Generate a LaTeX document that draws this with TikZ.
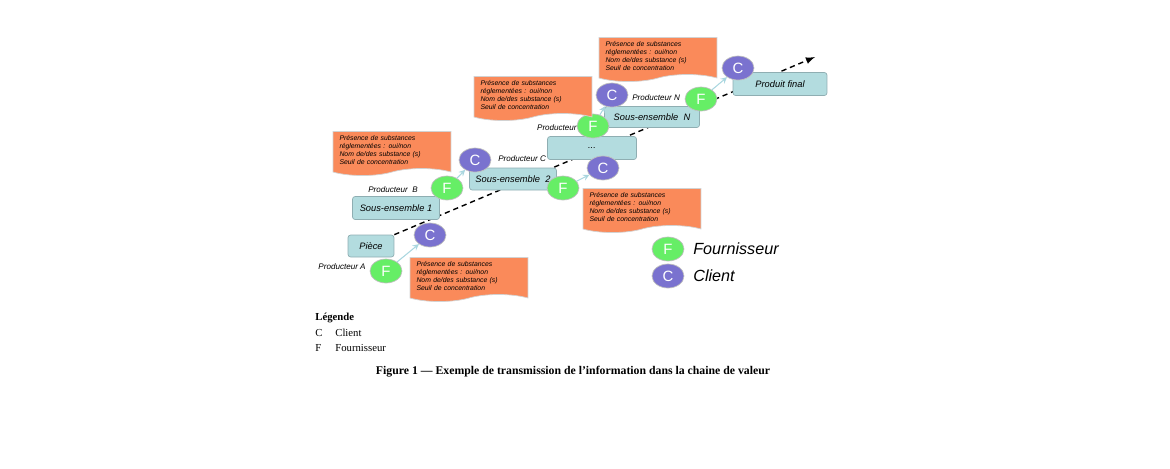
\documentclass[tikz,border=0pt]{standalone}
\usepackage{fontspec}
\setmainfont{Liberation Serif}
\setsansfont{Liberation Sans}
\usepackage{tikz}
\usetikzlibrary{shapes.geometric,shapes.symbols,backgrounds}
\definecolor{boxfill}{HTML}{B3DCDF}
\definecolor{boxline}{HTML}{8FAEB2}
\definecolor{fgreen}{HTML}{66EE66}
\definecolor{cpurple}{HTML}{7A72CF}
\definecolor{noteorange}{HTML}{FA8A5A}
\definecolor{flowblue}{HTML}{A9D6DF}

\begin{document}
\begin{tikzpicture}[x=0.02cm, y=-0.02cm,
	part/.style={draw=boxline, fill=boxfill, rounded corners=1.5pt, inner sep=0pt, font=\sffamily\itshape\fontsize{5.3}{6}\selectfont},
	fourn/.style={ellipse, draw=gray!50, fill=fgreen, minimum width=0.64cm, minimum height=0.48cm, inner sep=0pt, text=white, font=\sffamily\fontsize{8.5}{9}\selectfont},
	client/.style={fourn, fill=cpurple},
	note/.style={tape, tape bend top=none, tape bend height=4pt, draw=gray!35, fill=noteorange, minimum width=2.36cm, minimum height=0.88cm, text width=2.1cm, align=left, inner sep=1pt, font=\sffamily\itshape\fontsize{3.9}{4.5}\selectfont},
	prod/.style={inner sep=0pt, font=\sffamily\itshape\fontsize{4.6}{5}\selectfont},
	flow/.style={draw=flowblue, semithick, ->, >=stealth},
	chain/.style={->, >=latex, thick, dash pattern=on 3pt off 2.2pt},
	legend/.style={inner sep=0pt, anchor=west, font=\fontsize{6.1}{7}\selectfont}]
	\useasboundingbox (0,0) rectangle (1170,468);
	% pieces
	\node[part, minimum width=0.92cm, minimum height=0.44cm] (piece) at (371,246) {Pièce};
	\node[part, minimum width=1.74cm, minimum height=0.46cm] (se1) at (396,208) {Sous-ensemble 1};
	\node[part, minimum width=1.74cm, minimum height=0.44cm] (se2) at (513,179) {Sous-ensemble~~2};
	\node[part, minimum width=1.78cm, minimum height=0.46cm] (dots) at (592,148) {...};
	\node[part, minimum width=1.9cm, minimum height=0.42cm] (sen) at (652,117) {Sous-ensemble~~N};
	\node[part, minimum width=1.88cm, minimum height=0.46cm] (final) at (780,84) {Produit final};
	\coordinate (fin) at (815,57);
	\begin{scope}[on background layer]
		\draw[chain] (piece.north east) -- (fin);
	\end{scope}
	% fournisseurs et clients
	\node[fourn] (fa) at (386,271) {F};
	\node[client] (ca) at (430,235) {C};
	\node[fourn] (fb) at (447,188) {F};
	\node[client] (cb) at (475,160) {C};
	\node[fourn] (fc) at (563,188) {F};
	\node[client] (cc) at (603,168) {C};
	\node[fourn] (fd) at (593,126) {F};
	\node[client] (cd) at (612,95) {C};
	\node[fourn] (fn) at (701,99) {F};
	\node[client] (cn) at (738,68) {C};
	\draw[flow] (fa) -- (ca);
	\draw[flow] (fb) -- (cb);
	\draw[flow] (fc) -- (cc);
	\draw[flow] (fd) -- (cd);
	\draw[flow] (fn) -- (cn);
	% producteurs
	\node[prod, anchor=east] (pa) at (366,267) {Producteur A};
	\node[prod, anchor=west] (pb) at (368,190) {Producteur~~B};
	\node[prod, anchor=west] (pc) at (498,159) {Producteur C};
	\node[prod, anchor=east] (pd) at (577,128) {Producteur};
	\node[prod, anchor=west] (pn) at (632,98) {Producteur N};
	% notes
	\node[note] (na) at (469,276) {Présence de substances\\réglementées : oui/non\\Nom de/des substance (s)\\Seuil de concentration};
	\node[note] (nb) at (392,150) {Présence de substances\\réglementées : oui/non\\Nom de/des substance (s)\\Seuil de concentration};
	\node[note] (nc) at (533,95) {Présence de substances\\réglementées : oui/non\\Nom de/des substance (s)\\Seuil de concentration};
	\node[note] (nd) at (642,207) {Présence de substances\\réglementées : oui/non\\Nom de/des substance (s)\\Seuil de concentration};
	\node[note] (nn) at (658,56) {Présence de substances\\réglementées : oui/non\\Nom de/des substance (s)\\Seuil de concentration};
	% legende
	\node[fourn] (lf) at (668,249) {F};
	\node[client] (lc) at (668,276) {C};
	\node[prod, anchor=west, font=\sffamily\itshape\fontsize{9.2}{10}\selectfont] (lft) at (693,249) {Fournisseur};
	\node[prod, anchor=west, font=\sffamily\itshape\fontsize{9.2}{10}\selectfont] (lct) at (693,276) {Client};
	\node[legend, font=\bfseries\fontsize{6.1}{7}\selectfont] (leg) at (315,318) {Légende};
	\node[legend] (lgc) at (315,333) {C};
	\node[legend] (lgct) at (335,333) {Client};
	\node[legend] (lgf) at (315,348) {F};
	\node[legend] (lgft) at (335,348) {Fournisseur};
	\node[inner sep=0pt, font=\bfseries\fontsize{6.7}{8}\selectfont] (cap) at (573,372) {Figure 1 — Exemple de transmission de l'information dans la chaine de valeur};
\end{tikzpicture}
\end{document}
